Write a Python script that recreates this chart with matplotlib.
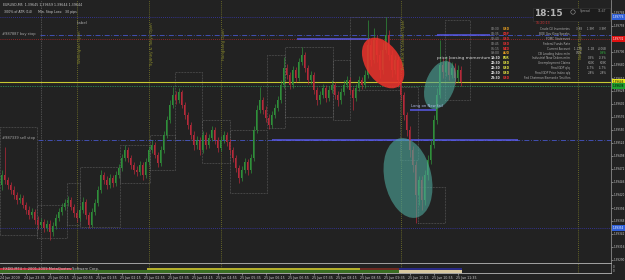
import numpy as np
import matplotlib
matplotlib.use("Agg")
import matplotlib.pyplot as plt
from matplotlib.patches import Ellipse, Rectangle, Circle
from matplotlib.transforms import ScaledTranslation, blended_transform_factory
from matplotlib.ticker import FormatStrFormatter

# EURUSD M5, bar 0 = 24 Jun 2009 22:55, one bar every 5 minutes
first_open = 1.39440
closes = [
    1.39460, 1.39450, 1.39440, 1.39430, 1.39420, 1.39410, 1.39414, 1.39400, 1.39390, 1.39380,
    1.39386, 1.39370, 1.39360, 1.39366, 1.39354, 1.39362, 1.39346, 1.39358, 1.39374, 1.39386,
    1.39396, 1.39404, 1.39410, 1.39396, 1.39384, 1.39374, 1.39390, 1.39406, 1.39380, 1.39360,
    1.39386, 1.39404, 1.39430, 1.39460, 1.39450, 1.39440, 1.39454, 1.39444, 1.39460, 1.39474,
    1.39494, 1.39510, 1.39494, 1.39480, 1.39470, 1.39466, 1.39480, 1.39460, 1.39486, 1.39510,
    1.39520, 1.39500, 1.39484, 1.39510, 1.39540, 1.39570, 1.39600, 1.39620, 1.39610, 1.39626,
    1.39600, 1.39580, 1.39560, 1.39540, 1.39520, 1.39530, 1.39510, 1.39540, 1.39520, 1.39534,
    1.39550, 1.39530, 1.39514, 1.39530, 1.39540, 1.39526, 1.39510, 1.39494, 1.39474, 1.39454,
    1.39470, 1.39486, 1.39470, 1.39494, 1.39550, 1.39590, 1.39610, 1.39590, 1.39574, 1.39560,
    1.39580, 1.39594, 1.39610, 1.39640, 1.39674, 1.39660, 1.39640, 1.39670, 1.39654, 1.39686,
    1.39700, 1.39674, 1.39650, 1.39660, 1.39630, 1.39610, 1.39620, 1.39634, 1.39614, 1.39630,
    1.39640, 1.39620, 1.39610, 1.39626, 1.39640, 1.39650, 1.39630, 1.39614, 1.39634, 1.39650,
    1.39640, 1.39660, 1.39720, 1.39690, 1.39730, 1.39700, 1.39670, 1.39710, 1.39740, 1.39700,
    1.39670, 1.39690, 1.39650, 1.39620, 1.39580, 1.39550, 1.39510, 1.39480, 1.39420, 1.39450,
    1.39410, 1.39460, 1.39490, 1.39520, 1.39570, 1.39620, 1.39680, 1.39666, 1.39686, 1.39660,
    1.39674, 1.39654, 1.39670, 1.39646,
]
highs = [
    1.39470, 1.39516, 1.39456, 1.39446, 1.39438, 1.39426, 1.39422, 1.39420, 1.39406, 1.39398,
    1.39394, 1.39392, 1.39378, 1.39374, 1.39372, 1.39370, 1.39370, 1.39366, 1.39382, 1.39394,
    1.39404, 1.39412, 1.39418, 1.39416, 1.39402, 1.39390, 1.39398, 1.39416, 1.39412, 1.39386,
    1.39394, 1.39412, 1.39438, 1.39470, 1.39466, 1.39458, 1.39462, 1.39460, 1.39468, 1.39482,
    1.39502, 1.39520, 1.39516, 1.39500, 1.39486, 1.39478, 1.39488, 1.39486, 1.39494, 1.39518,
    1.39530, 1.39526, 1.39506, 1.39518, 1.39548, 1.39578, 1.39610, 1.39636, 1.39628, 1.39634,
    1.39630, 1.39606, 1.39586, 1.39566, 1.39548, 1.39538, 1.39536, 1.39548, 1.39546, 1.39542,
    1.39558, 1.39556, 1.39536, 1.39538, 1.39548, 1.39546, 1.39532, 1.39516, 1.39500, 1.39480,
    1.39478, 1.39494, 1.39492, 1.39502, 1.39558, 1.39600, 1.39636, 1.39616, 1.39598, 1.39582,
    1.39588, 1.39602, 1.39618, 1.39650, 1.39696, 1.39682, 1.39666, 1.39678, 1.39676, 1.39694,
    1.39716, 1.39706, 1.39680, 1.39668, 1.39666, 1.39636, 1.39628, 1.39642, 1.39640, 1.39638,
    1.39650, 1.39646, 1.39628, 1.39634, 1.39650, 1.39658, 1.39656, 1.39636, 1.39642, 1.39658,
    1.39656, 1.39670, 1.39770, 1.39730, 1.39754, 1.39740, 1.39710, 1.39726, 1.39776, 1.39750,
    1.39710, 1.39700, 1.39698, 1.39656, 1.39626, 1.39586, 1.39558, 1.39518, 1.39488, 1.39458,
    1.39458, 1.39470, 1.39500, 1.39530, 1.39580, 1.39634, 1.39730, 1.39694, 1.39698, 1.39694,
    1.39686, 1.39684, 1.39680, 1.39678,
]
lows = [
    1.39430, 1.39442, 1.39432, 1.39422, 1.39412, 1.39402, 1.39404, 1.39394, 1.39382, 1.39372,
    1.39374, 1.39362, 1.39352, 1.39354, 1.39346, 1.39348, 1.39330, 1.39338, 1.39352, 1.39368,
    1.39380, 1.39390, 1.39398, 1.39390, 1.39376, 1.39366, 1.39368, 1.39384, 1.39372, 1.39354,
    1.39356, 1.39380, 1.39398, 1.39424, 1.39442, 1.39432, 1.39434, 1.39436, 1.39438, 1.39454,
    1.39468, 1.39488, 1.39486, 1.39472, 1.39462, 1.39458, 1.39460, 1.39450, 1.39454, 1.39480,
    1.39504, 1.39494, 1.39476, 1.39478, 1.39504, 1.39534, 1.39564, 1.39594, 1.39602, 1.39604,
    1.39594, 1.39572, 1.39552, 1.39532, 1.39510, 1.39512, 1.39500, 1.39504, 1.39512, 1.39514,
    1.39528, 1.39522, 1.39506, 1.39508, 1.39524, 1.39518, 1.39502, 1.39486, 1.39466, 1.39444,
    1.39448, 1.39464, 1.39460, 1.39464, 1.39488, 1.39544, 1.39584, 1.39582, 1.39566, 1.39552,
    1.39554, 1.39574, 1.39588, 1.39604, 1.39634, 1.39652, 1.39632, 1.39634, 1.39646, 1.39648,
    1.39680, 1.39666, 1.39642, 1.39642, 1.39622, 1.39600, 1.39602, 1.39614, 1.39606, 1.39608,
    1.39624, 1.39612, 1.39598, 1.39602, 1.39620, 1.39634, 1.39622, 1.39590, 1.39608, 1.39628,
    1.39632, 1.39634, 1.39654, 1.39678, 1.39684, 1.39686, 1.39654, 1.39662, 1.39704, 1.39690,
    1.39656, 1.39662, 1.39636, 1.39610, 1.39570, 1.39538, 1.39496, 1.39466, 1.39364, 1.39400,
    1.39390, 1.39400, 1.39450, 1.39482, 1.39514, 1.39562, 1.39614, 1.39654, 1.39658, 1.39650,
    1.39654, 1.39642, 1.39646, 1.39638,
]

time_labels = [
    "24 Jun 2009", "24 Jun 23:35", "25 Jun 00:15", "25 Jun 00:55", "25 Jun 01:35",
    "25 Jun 02:15", "25 Jun 02:55", "25 Jun 03:35", "25 Jun 04:15", "25 Jun 04:55",
    "25 Jun 05:35", "25 Jun 06:15", "25 Jun 06:55", "25 Jun 07:35", "25 Jun 08:15",
    "25 Jun 08:55", "25 Jun 09:35", "25 Jun 10:15", "25 Jun 10:55", "25 Jun 11:35",
]
time_step = 8

# session opens (bar index) and their labels
day_sep_bar = 13
session_bars = [25, 49, 73, 133, 192]
session_names = ["Wellington Open", "Sydney & Tokyo Open", "Hongkong Open",
                 "Frankfurt & London Open", "Newyork Open"]
session_label_top = [1.39750, 1.39766, 1.39754, 1.39770, 1.39750]

# horizontal levels: price, colour, linestyle, width, start (axes fraction)
level_prices = [1.39776, 1.39740, 1.39732, 1.39646, 1.39638, 1.39530, 1.39354]
level_colors = ['#3a3ab4', '#4656c8', '#b02828', '#c8c832', '#2e9a5a', '#4656c8', '#3a3ab4']
level_styles = [(0, (1, 1.5)), (0, (6, 2, 1, 2)), (0, (1, 1.5)), '-', (0, (2, 1.5)),
                (0, (6, 2, 1, 2)), (0, (1, 1.5))]
level_widths = [0.6, 0.6, 0.6, 0.8, 0.5, 0.6, 0.6]
level_start = [0, 0.065, 0, 0, 0, 0.062, 0]

# trend-line segments (bar from, bar to, price)
seg_from = [98.5, 145.2, 90.2, 136.2]
seg_to = [122.8, 162.8, 172.2, 145.2]
seg_price = [1.39732, 1.39740, 1.39530, 1.39590]

# price tags on the right scale
tag_prices = [1.39776, 1.39732, 1.39646, 1.39638, 1.39354]
tag_colors = ['#2f5fd8', '#e01010', '#e8e820', '#20a030', '#2f5fd8']
tag_text = ['white', 'white', 'black', 'black', 'white']

# dotted range boxes: bar from, bar to, top, bottom
box_from = [-0.5, 11.8, 21.8, 26.2, 39.5, 49.5, 57.8, 66.8, 76.2, 88.5, 94.5, 110.5, 116.2, 132.8, 138.8, 147.8]
box_to = [11.8, 21.8, 26.2, 39.5, 49.5, 57.8, 66.8, 76.2, 88.5, 94.5, 110.5, 116.2, 132.8, 138.8, 147.8, 156.2]
box_top = [1.39556, 1.39400, 1.39444, 1.39476, 1.39520, 1.39540, 1.39666, 1.39570, 1.39550, 1.39700,
           1.39716, 1.39690, 1.39776, 1.39636, 1.39436, 1.39770]
box_bot = [1.39340, 1.39334, 1.39360, 1.39356, 1.39444, 1.39470, 1.39530, 1.39484, 1.39424, 1.39554,
           1.39576, 1.39570, 1.39630, 1.39490, 1.39364, 1.39610]

# session indicator strip under the chart
band_top_from = [0, 49, 120, 133]
band_top_to = [24, 120, 133, 154]
band_top_col = ['#c03040', '#b4b02c', '#6e2a22', '#2a2a86']
band_bot_from = [0, 133]
band_bot_to = [133, 154]
band_bot_col = ['#3a6e22', '#d8c8a0']

# news calendar
news_time = ["03:30", "03:35", "03:40", "03:45", "06:15", "09:00", "18:30", "22:30", "22:30", "22:30", "23:30"]
news_ccy = ["USD", "GBP", "USD", "USD", "NZD", "AUD", "EUR", "USD", "USD", "USD", "USD"]
news_ccy_col = ['#e09a20', '#e03030', '#e03030', '#e03030', '#e03030', '#e09a20',
                '#e0e040', '#e0e040', '#e0e040', '#e0e040', '#e03030']
news_event = ["Crude Oil Inventories", "BOE Gov King Speaks", "FOMC Statement", "Federal Funds Rate",
              "Current Account", "CB Leading Index m/m", "Industrial New Orders m/m",
              "Unemployment Claims", "Final GDP q/q", "Final GDP Price Index q/q",
              "Fed Chairman Bernanke Testifies"]
news_actual = ["-3.88", "", "", "", "-1.17B", "0.5%", "", "", "", "", ""]
news_fcst = ["-1.9M", "", "", "", "-1.1B", "", "0.3%", "602K", "-5.7%", "2.8%", ""]
news_prev = ["-3.9M", "", "", "", "-4.06B", "0.9%", "-0.3%", "608K", "-5.7%", "2.8%", ""]

BG = '#222222'
GREEN = '#2f8f3a'
RED = '#b52a3a'
TXT = '#c8c8c8'
W, H = 625, 280


def px_rect(x0, y0, x1, y1):
    return [x0 / W, 1 - y1 / H, (x1 - x0) / W, (y1 - y0) / H]


fig = plt.figure(figsize=(6.25, 2.8), dpi=100, facecolor=BG)
ax = fig.add_axes(px_rect(0, 0, 611, 262), facecolor=BG)
ax_s = fig.add_axes(px_rect(0, 263, 611, 273), facecolor=BG)

xlim = (-0.5, (611 - 1.5) / 3)
ax.set_xlim(*xlim)
ax.set_ylim(1.39286, 1.39810)
ax_s.set_xlim(*xlim)
ax_s.set_ylim(10, 0)

# candles
o = np.array([first_open] + closes[:-1])
c = np.array(closes)
hi = np.array(highs)
lo = np.array(lows)
idx = np.arange(len(c))
col = np.where(c >= o, GREEN, RED)
ax.vlines(idx, lo, hi, colors=col, lw=0.5, zorder=3)
ax.bar(idx, np.maximum(np.abs(c - o), 0.000015), bottom=np.minimum(o, c), width=0.6,
       color=col, lw=0, zorder=3)

# range boxes
for b0, b1, pt, pb in zip(box_from, box_to, box_top, box_bot):
    ax.add_patch(Rectangle((b0, pb), b1 - b0, pt - pb, fill=False, ec='#6a6a6a',
                           ls=(0, (1, 1.2)), lw=0.5, zorder=2))

# levels
for p, lc, ls, lw, x0 in zip(level_prices, level_colors, level_styles, level_widths, level_start):
    ax.axhline(p, xmin=x0, color=lc, ls=ls, lw=lw, zorder=2)
for b0, b1, p in zip(seg_from, seg_to, seg_price):
    ax.hlines(p, b0, b1, color='#5a5ae6', lw=1.1, zorder=2)

# session lines
for a in (ax, ax_s):
    a.axvline(day_sep_bar, color='#7a7a7a', ls=(0, (1, 1.5)), lw=0.5, zorder=1)
    for b in session_bars:
        a.axvline(b, color='#7e7e2a', ls=(0, (1, 1.5)), lw=0.6, zorder=1)
for b, name, top in zip(session_bars, session_names, session_label_top):
    ax.text(b + 0.4, top, name, rotation=90, ha='left', va='top', fontsize=2.8,
            color='#8c8c2c', zorder=5)

# hand-drawn ellipses, centred on chart coordinates, sized in pixels
ell = [((127.2, 1.39684), 56, 35, -57, '#e8332c', 0.88),
       ((146.2, 1.39640), 50, 29, 70, '#4fa89c', 0.6),
       ((135.5, 1.39454), 81, 47, -78, '#4fa89c', 0.6)]
for (cx, cy), w, h, ang, fc, al in ell:
    tr = fig.dpi_scale_trans + ScaledTranslation(cx, cy, ax.transData)
    ax.add_patch(Ellipse((0, 0), w / 100, h / 100, angle=ang, fc=fc, ec='none',
                         alpha=al, transform=tr, zorder=4))

# right price scale
ax.set_yticks(np.round(np.arange(1.39290, 1.39800, 0.00026), 5))
ax.yaxis.set_major_formatter(FormatStrFormatter('%.5f'))
ax.tick_params(axis='y', left=False, labelleft=False, right=True, labelright=True,
               labelsize=2.0, colors=TXT, length=1.2, width=0.4, pad=0.5)
ax.set_xticks([])
for s in ax.spines.values():
    s.set_visible(False)
ax.spines['right'].set_visible(True)
ax.spines['right'].set_color('#8a8a8a')
ax.spines['right'].set_linewidth(0.6)

btr = blended_transform_factory(ax.transAxes, ax.transData)
for p, fc, tc in zip(tag_prices, tag_colors, tag_text):
    ax.text(1.003, p, f'{p:.5f}', transform=btr, fontsize=2.0, color=tc, ha='left',
            va='center', zorder=6, clip_on=False,
            bbox=dict(boxstyle='square,pad=0.2', fc=fc, ec='none'))

# indicator strip + time axis
for b0, b1, fc in zip(band_top_from, band_top_to, band_top_col):
    ax_s.broken_barh([(b0 - 0.5, b1 - b0)], (4.5, 2.5), facecolors=fc)
for b0, b1, fc in zip(band_bot_from, band_bot_to, band_bot_col):
    ax_s.broken_barh([(b0 - 0.5, b1 - b0)], (7, 2.5), facecolors=fc)
ax_s.set_yticks([])
ax_s.set_xticks(np.arange(len(time_labels)) * time_step)
ax_s.set_xticklabels(time_labels)
ax_s.tick_params(axis='x', labelsize=2.3, colors=TXT, length=1.2, width=0.4, pad=0.8)
shift = ScaledTranslation(-1.5 / 100, 0, fig.dpi_scale_trans)
for t in ax_s.get_xticklabels():
    t.set_ha('left')
    t.set_transform(t.get_transform() + shift)
for k, s in ax_s.spines.items():
    s.set_linewidth(0.6)
    s.set_color('#b8b8b8')
ax_s.spines['left'].set_visible(False)
ax_s.spines['right'].set_color('#8a8a8a')

# overlay in pixel coordinates for screen texts
ov = fig.add_axes([0, 0, 1, 1])
ov.set_xlim(0, W)
ov.set_ylim(H, 0)
ov.axis('off')
ov.patch.set_alpha(0)
ov.set_zorder(10)

ov.text(3, 4.5, "EURUSD,M5  1.39645 1.39659 1.39644 1.39644", fontsize=2.3, color=TXT, va='center')
ov.text(4, 12, "300% of ATR (14)", fontsize=2.3, color=TXT, va='center')
ov.text(38, 12, "Min. Stop Loss:", fontsize=2.3, color=TXT, va='center')
ov.text(65, 12, "30 pips", fontsize=2.3, color=TXT, va='center')
ov.text(2, 33.5, "#987887 buy stop", fontsize=2.6, color='#a8a8a8', va='center')
ov.text(2, 138, "#987339 sell stop", fontsize=2.6, color='#a8a8a8', va='center')
ov.text(77, 23, "Label", fontsize=2.9, color='#a8a8a8', va='center')
ov.text(437, 58, "price loosing momentum", fontsize=3.1, color='#dcdcdc', va='center')
ov.text(411, 106, "Long on New fail", fontsize=2.7, color='#b0bce8', va='center')
ov.text(3, 269, "FXDD-MT4 \u00a9 2001-2009 MetaQuotes Software Corp.", fontsize=2.6, color=TXT, va='center')
ov.text(613, 267.5, "0", fontsize=2.0, color=TXT, va='center')
ov.text(613, 271.5, "0", fontsize=2.0, color=TXT, va='center')

# clock and news panel
ov.add_patch(Rectangle((533, 7.5), 77, 13, fc='#1c1c1c', ec='#3a3a3a', lw=0.4))
ov.text(534, 14, "18:15", fontsize=6.5, fontweight='bold', color='#b4b4b4', va='center')
ov.add_patch(Circle((573, 12), 2.2, fc='none', ec='#9a9a9a', lw=0.4))
ov.text(580, 11, "Spread", fontsize=2.2, color='#9a9a9a', va='center')
ov.text(598, 11, "11:47", fontsize=2.2, color='#9a9a9a', va='center')
ov.text(536, 23, "16:20:13", fontsize=2.3, color='#d03030', va='center')

for k in range(len(news_time)):
    y = 29 + 4.9 * k
    upcoming = k >= 6
    ov.text(491, y, news_time[k], fontsize=2.2, va='center',
            color='#e8e8e8' if upcoming else '#a0a0a0', fontweight='bold' if upcoming else 'normal')
    ov.text(503, y, news_ccy[k], fontsize=2.2, va='center', color=news_ccy_col[k], fontweight='bold')
    ov.text(570, y, news_event[k], fontsize=2.1, va='center', ha='right', color='#b0b0b0')
    for xv, v in zip((583, 595, 607), (news_actual[k], news_fcst[k], news_prev[k])):
        vc = '#30c040' if (k == 5 and xv == 607) else '#b0b0b0'
        ov.text(xv, y, v, fontsize=2.0, va='center', ha='right', color=vc)

fig.savefig("out.png", dpi=100, facecolor=BG)
